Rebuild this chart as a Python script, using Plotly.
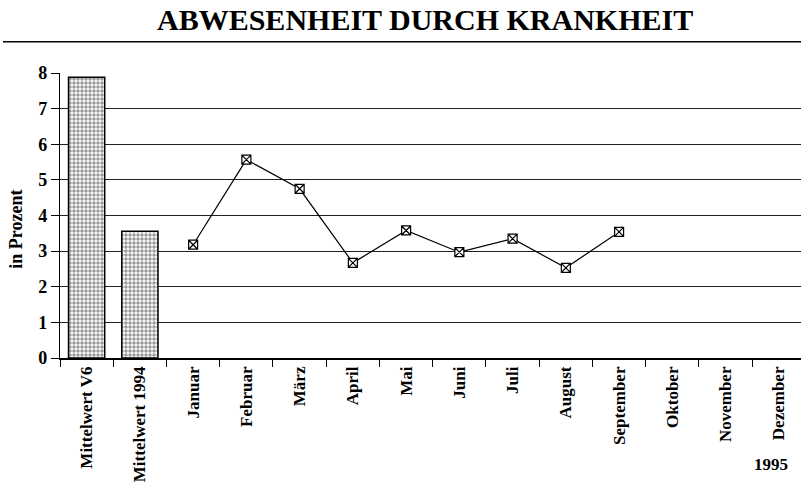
import plotly.graph_objects as go

categories = ["Mittelwert V6", "Mittelwert 1994", "Januar", "Februar", "März", "April",
              "Mai", "Juni", "Juli", "August", "September", "Oktober", "November", "Dezember"]
bar_labels = ["Mittelwert V6", "Mittelwert 1994"]
bar_values = [7.88, 3.56]
month_labels = ["Januar", "Februar", "März", "April", "Mai", "Juni", "Juli", "August",
                "September", "Oktober", "November", "Dezember"]
month_values = [3.18, 5.57, 4.75, 2.67, 3.58, 2.97, 3.35, 2.53, 3.54, None, None, None]
y_ticks = [0, 1, 2, 3, 4, 5, 6, 7, 8]

SERIF = "Liberation Serif, Times New Roman, serif"

fig = go.Figure()
fig.add_trace(go.Bar(
    x=bar_labels, y=bar_values, width=0.68,
    marker=dict(color="white",
                line=dict(color="black", width=1.5),
                pattern=dict(shape=".", fgcolor="#333", bgcolor="white", size=4, solidity=0.6)),
    showlegend=False,
))
fig.add_trace(go.Scatter(
    x=month_labels, y=month_values, mode="lines+markers",
    line=dict(color="black", width=1.2),
    marker=dict(symbol="square-x", size=9, color="white", line=dict(color="black", width=1.2)),
    connectgaps=False, showlegend=False,
))

fig.update_layout(
    width=801, height=485,
    margin=dict(l=60, r=0, t=73, b=127),
    paper_bgcolor="white", plot_bgcolor="white",
    xaxis=dict(
        type="category", categoryorder="array", categoryarray=categories,
        range=[-0.5, 13.416], tickson="boundaries",
        ticks="outside", ticklen=7, tickcolor="black", tickwidth=1.2,
        showline=True, linecolor="black", linewidth=1.5,
        showgrid=False, tickangle=-90, automargin=False,
        tickfont=dict(family=SERIF, size=17, color="black", weight="bold"),
    ),
    yaxis=dict(
        range=[0, 8], tickvals=y_ticks, ticks="outside", ticklen=8,
        tickcolor="black", tickwidth=1.2,
        showline=True, linecolor="black", linewidth=1.2,
        showgrid=True, gridcolor="#222", gridwidth=1.3,
        zeroline=False, automargin=False,
        tickfont=dict(family=SERIF, size=18, color="black", weight="bold"),
    ),
    annotations=[
        dict(text="ABWESENHEIT DURCH KRANKHEIT", xref="paper", yref="paper",
             x=(425 - 60) / 741, y=(358.3 - 20) / 285, xanchor="center", yanchor="middle",
             showarrow=False, font=dict(family=SERIF, size=30, color="black", weight="bold")),
        dict(text="in Prozent", xref="paper", yref="paper", textangle=-90,
             x=(16 - 60) / 741, y=(358.3 - 230) / 285, xanchor="center", yanchor="middle",
             showarrow=False, font=dict(family=SERIF, size=18, color="black", weight="bold")),
        dict(text="1995", xref="paper", yref="paper",
             x=(771 - 60) / 741, y=(358.3 - 465) / 285, xanchor="center", yanchor="middle",
             showarrow=False, font=dict(family=SERIF, size=17, color="black", weight="bold")),
    ],
    shapes=[
        dict(type="line", xref="paper", yref="paper",
             x0=(3 - 60) / 741, x1=1.0, y0=(358.3 - 42) / 285, y1=(358.3 - 42) / 285,
             line=dict(color="black", width=1.5)),
    ],
)

fig.write_html("out.html", config={"displayModeBar": False},
               post_script="document.body.style.margin='0';document.body.style.overflow='hidden';")
